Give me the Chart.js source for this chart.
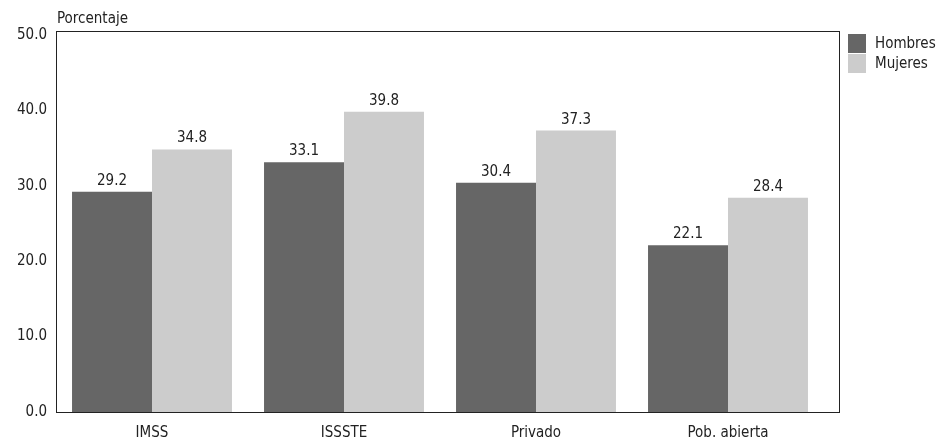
<!DOCTYPE html>
<html>
<head>
<meta charset="utf-8">
<script src="https://cdn.jsdelivr.net/npm/chart.js@4.4.1/dist/chart.umd.min.js"></script>
<style>
html,body{margin:0;padding:0;background:#fff;}
#wrap{width:940px;height:444px;position:relative;}
</style>
</head>
<body>
<div id="wrap"><canvas id="c"></canvas></div>
<script>
const categories = ['IMSS', 'ISSSTE', 'Privado', 'Pob. abierta'];
const hombres = [29.2, 33.1, 30.4, 22.1];
const mujeres = [34.8, 39.8, 37.3, 28.4];
const seriesNames = ['Hombres', 'Mujeres'];
const seriesColors = ['#666666', '#cccccc'];
const yTicks = [0, 10, 20, 30, 40, 50];
const yTitle = 'Porcentaje';

const FONT = "'Liberation Sans Narrow', 'DejaVu Sans Condensed', 'Roboto', sans-serif";
const TXT = '#222';
Chart.defaults.font.family = FONT;
Chart.defaults.font.size = 15;
Chart.defaults.color = TXT;

// frame sticks out past the last category a bit, like the original
const FRAME_EXTRA = 15;

const extras = {
  id: 'extras',
  afterDatasetsDraw(chart) {
    const {ctx, chartArea: a} = chart;
    ctx.save();
    ctx.strokeStyle = '#222';
    ctx.lineWidth = 1;
    ctx.strokeRect(Math.round(a.left) + 0.5, Math.round(a.top) + 0.5,
      Math.round(a.right - a.left) + FRAME_EXTRA, Math.round(a.bottom - a.top));
    ctx.font = '15px ' + FONT;
    ctx.fillStyle = TXT;
    // values above bars
    ctx.textAlign = 'center';
    ctx.textBaseline = 'alphabetic';
    chart.data.datasets.forEach((ds, i) => {
      chart.getDatasetMeta(i).data.forEach((bar, j) => {
        ctx.fillText(ds.data[j].toFixed(1), bar.x, bar.y - 7);
      });
    });
    // axis title
    ctx.textAlign = 'left';
    ctx.fillText(yTitle, a.left + 1, a.top - 8);
    // legend
    ctx.textBaseline = 'middle';
    chart.data.datasets.forEach((ds, i) => {
      const x = a.right + FRAME_EXTRA + 9, y = a.top + 3 + i * 20;
      ctx.fillStyle = ds.backgroundColor;
      ctx.fillRect(x, y, 18, 19);
      ctx.fillStyle = TXT;
      ctx.fillText(ds.label, x + 27, y + 10);
    });
    ctx.restore();
  }
};

new Chart(document.getElementById('c'), {
  type: 'bar',
  data: {
    labels: categories,
    datasets: [
      {label: seriesNames[0], data: hombres, backgroundColor: seriesColors[0]},
      {label: seriesNames[1], data: mujeres, backgroundColor: seriesColors[1]}
    ]
  },
  options: {
    responsive: true,
    maintainAspectRatio: false,
    animation: false,
    events: [],
    layout: {padding: {top: 31, right: 116, bottom: 0, left: 0}},
    datasets: {bar: {categoryPercentage: 0.833, barPercentage: 1, borderWidth: 0}},
    plugins: {legend: {display: false}, tooltip: {enabled: false}},
    scales: {
      x: {
        grid: {display: false, drawTicks: false},
        border: {display: false},
        afterFit(s) { s.height = 32; },
        ticks: {padding: 12, font: {size: 15}}
      },
      y: {
        min: 0, max: 50.5,
        grid: {display: false, drawTicks: false},
        border: {display: false},
        afterFit(s) { s.width = 56; },
        afterBuildTicks(s) { s.ticks = yTicks.map(v => ({value: v})); },
        ticks: {padding: 9, callback: v => v.toFixed(1), font: {size: 15}}
      }
    }
  },
  plugins: [extras]
});
</script>
</body>
</html>
